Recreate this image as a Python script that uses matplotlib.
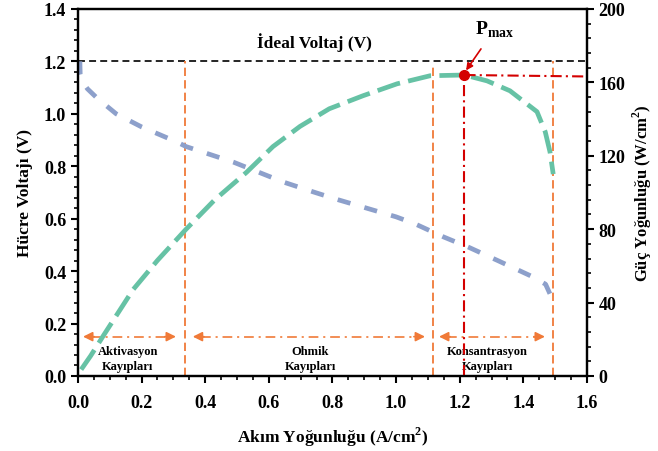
import numpy as np
import matplotlib.pyplot as plt
from matplotlib.ticker import MultipleLocator

plt.rcParams['font.family'] = ['Liberation Serif', 'DejaVu Serif']
plt.rcParams['font.weight'] = 'bold'
plt.rcParams['mathtext.fontset'] = 'custom'
plt.rcParams['mathtext.rm'] = 'Liberation Serif:bold'
plt.rcParams['mathtext.bf'] = 'Liberation Serif:bold'
plt.rcParams['lines.scale_dashes'] = False

# polarization curve (current density vs cell voltage)
current_v = [0.006, 0.007, 0.012, 0.03, 0.06, 0.12, 0.2, 0.31, 0.34, 0.49, 0.645,
             0.74, 0.81, 1.0, 1.06, 1.15, 1.23, 1.32, 1.43, 1.47, 1.485, 1.494]
voltage = [1.20, 1.15, 1.125, 1.095, 1.06, 1.0, 0.95, 0.893, 0.875, 0.815, 0.74,
           0.702, 0.675, 0.607, 0.58, 0.53, 0.49, 0.44, 0.378, 0.35, 0.31, 0.28]

# power density curve
current_p = [0.01, 0.04, 0.08, 0.173, 0.25, 0.34, 0.43, 0.53, 0.613, 0.698, 0.79,
             0.896, 1.003, 1.107, 1.215, 1.286, 1.358, 1.443, 1.469, 1.484, 1.494]
power = [3.5, 11, 22, 47, 63, 80, 96, 111, 125, 136, 145.6,
         152.7, 159.2, 163.6, 164, 160.8, 155.4, 144, 133, 122, 110]

ideal_voltage = 1.2
p_max_current = 1.215
p_max = 164
region_bounds = [0.336, 1.116, 1.494]
region_tops = [1.2, 1.18, 1.2]
region_names = ['Aktivasyon\nKayıpları', 'Ohmik\nKayıpları', 'Konsantrasyon\nKayıpları']
region_centers = [0.157, 0.73, 1.286]
arrow_spans = [(0.016, 0.308), (0.361, 1.091), (1.135, 1.468)]

blue = '#8da0cb'
green = '#66c2a5'
orange = '#f07a38'
red = '#d40000'

fig = plt.figure(figsize=(6.58, 4.52), dpi=100)
ax = fig.add_axes([0.1185, 0.166, 0.7735, 0.812])
ax2 = ax.twinx()

# ideal voltage
ax.plot([0, 1.6], [ideal_voltage, ideal_voltage], color='black', lw=1.2,
        linestyle=(0, (5, 3)))
ax.text(0.742, 1.275, 'İdeal Voltaj (V)', ha='center', va='center', fontsize=12.5,
        fontweight='bold')

# region boundaries
for xb, top in zip(region_bounds, region_tops):
    ax.plot([xb, xb], [0, top], color=orange, lw=1.3, linestyle=(0, (6, 3)))

# arrows and labels
for (x0, x1) in arrow_spans:
    ax.plot([x0 + 0.025, x1 - 0.025], [0.15, 0.15], color=orange, lw=1.2,
            linestyle=(0, (7, 3.5, 1.5, 3.5)))
    for a, b in [(x0 + 0.035, x0), (x1 - 0.035, x1)]:
        ax.annotate('', xy=(b, 0.15), xytext=(a, 0.15),
                    arrowprops=dict(arrowstyle='-|>', color=orange, lw=1.2,
                                    mutation_scale=14, shrinkA=0, shrinkB=0))
for xc, name in zip(region_centers, region_names):
    ax.text(xc, 0.066, name, ha='center', va='center', fontsize=9,
            fontweight='bold', linespacing=1.3)

# voltage curve
ax.plot(current_v, voltage, color=red, lw=1.2, linestyle=(14.5, (1.5, 18.5)))
ax.plot(current_v, voltage, color=blue, lw=3.4, linestyle=(0, (9.5, 10.5)),
        dash_capstyle='butt')

# power curve
ax2.plot(current_p, power, color=red, lw=1.0, linestyle=(20, (1.2, 21.8)))
ax2.plot(current_p, power, color=green, lw=3.4, linestyle=(0, (17, 6)),
         dash_capstyle='butt')

# maximum power point
ax2.plot([p_max_current, 1.6], [p_max, p_max - 0.8], color=red, lw=1.5,
         linestyle=(0, (8, 3, 1.5, 3)))
ax2.plot([p_max_current, p_max_current], [0, p_max], color=red, lw=1.5,
         linestyle=(0, (8, 3, 1.5, 3)))
ax2.plot([p_max_current], [p_max], 'o', color=red, ms=7, zorder=5)
ax2.annotate(r'$\mathbf{P}_{\mathbf{max}}$', xy=(p_max_current + 0.005, p_max + 2.5),
             xytext=(1.31, 189), ha='center', va='center', fontsize=14,
             arrowprops=dict(arrowstyle='-|>', color=red, lw=1.2,
                             mutation_scale=10, shrinkA=6, shrinkB=0))

# axes
ax.set_xlim(0, 1.6)
ax.set_ylim(0, 1.4)
ax2.set_ylim(0, 200)
ax.xaxis.set_major_locator(MultipleLocator(0.2))
ax.xaxis.set_minor_locator(MultipleLocator(0.05))
ax.yaxis.set_major_locator(MultipleLocator(0.2))
ax.yaxis.set_minor_locator(MultipleLocator(0.04))
ax2.yaxis.set_major_locator(MultipleLocator(40))
ax2.yaxis.set_minor_locator(MultipleLocator(8))
ax.xaxis.set_major_formatter(plt.FuncFormatter(lambda v, p: f'{v:.1f}'))
ax.yaxis.set_major_formatter(plt.FuncFormatter(lambda v, p: f'{v:.1f}'))

for a in (ax, ax2):
    for s in a.spines.values():
        s.set_linewidth(1.6)
    a.tick_params(which='major', length=5, width=1.5, labelsize=13, direction='out')
    a.tick_params(which='minor', length=3, width=1.2, direction='out')
ax.tick_params(top=False, right=False, which='both')
ax.tick_params(axis='x', pad=8)
ax2.tick_params(left=False, top=False, which='both')
for lab in ax.get_xticklabels() + ax.get_yticklabels() + ax2.get_yticklabels():
    lab.set_fontweight('bold')

ax.set_xlabel(r'Akım Yoğunluğu (A/cm$^{\mathbf{2}}$)', fontsize=12.5,
              fontweight='bold', labelpad=10)
ax.set_ylabel('Hücre Voltajı (V)', fontsize=12.5, fontweight='bold', labelpad=8)
ax2.set_ylabel(r'Güç Yoğunluğu (W/cm$^{\mathbf{2}}$)', fontsize=12,
               fontweight='bold', labelpad=4)

fig.savefig('out.png', dpi=100)
